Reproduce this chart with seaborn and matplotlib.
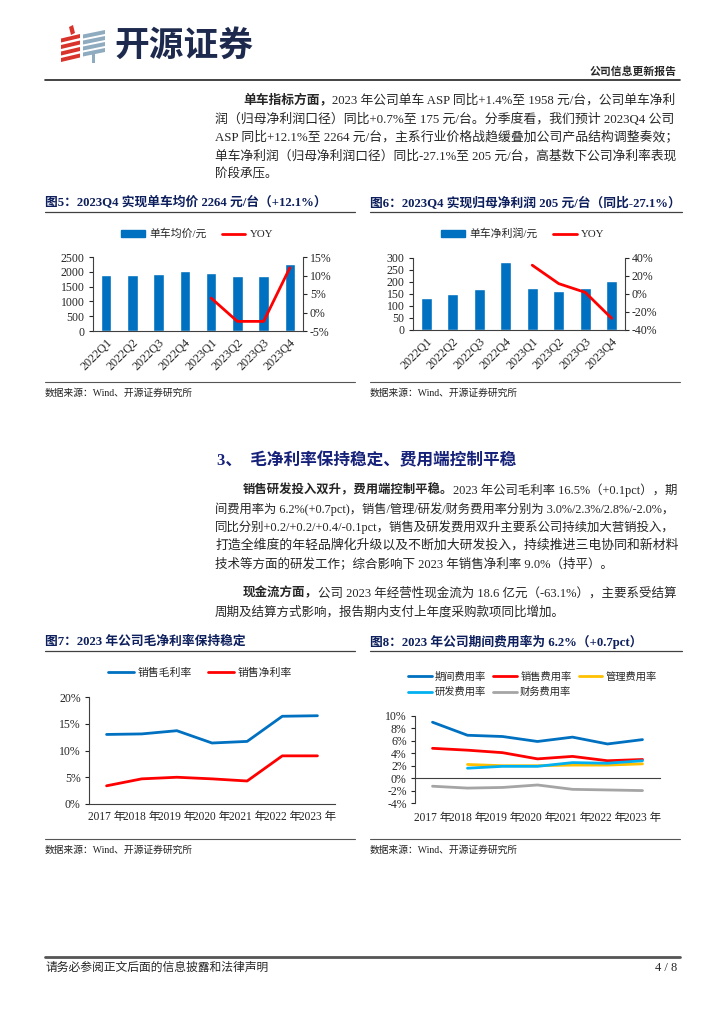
import numpy as np
import pandas as pd
import seaborn as sns
import matplotlib.pyplot as plt
from matplotlib.patches import Patch, Polygon
from matplotlib.lines import Line2D
from matplotlib.ticker import FuncFormatter

# ---- data ----
quarters = ["2022Q1", "2022Q2", "2022Q3", "2022Q4", "2023Q1", "2023Q2", "2023Q3", "2023Q4"]
asp = [1900, 1905, 1925, 2020, 1975, 1860, 1870, 2264]
asp_yoy = [np.nan, np.nan, np.nan, np.nan, 3.9, -2.4, -2.4, 12.1]
profit = [132, 148, 170, 282, 175, 163, 173, 205]
profit_yoy = [np.nan, np.nan, np.nan, np.nan, 32.0, 11.5, 1.8, -27.1]

years = ["2017 年", "2018 年", "2019 年", "2020 年", "2021 年", "2022 年", "2023 年"]
gross_margin = [13.0, 13.1, 13.7, 11.4, 11.7, 16.4, 16.5]
net_margin = [3.4, 4.7, 5.0, 4.7, 4.3, 9.0, 9.0]
period_exp = [9.0, 6.9, 6.7, 5.9, 6.6, 5.5, 6.2]
sales_exp = [4.8, 4.5, 4.1, 3.1, 3.5, 2.8, 3.0]
admin_exp = [np.nan, 2.2, 2.0, 2.0, 2.1, 2.1, 2.3]
rd_exp = [np.nan, 1.6, 1.9, 1.9, 2.5, 2.4, 2.8]
fin_exp = [-1.3, -1.6, -1.5, -1.1, -1.8, -1.9, -2.0]

BLUE = "#0070C0"
RED = "#FF0000"
YELLOW = "#FFC000"
LIGHTBLUE = "#00B0F0"
GREY = "#A5A5A5"
NAVY = "#0d1f5c"

W, H = 724, 1024
RIGHT = 677  # right margin of the body text

sns.set_style("white")
FONT = ["Liberation Serif", "Noto Sans CJK SC"]
plt.rcParams["font.family"] = FONT
plt.rcParams["axes.unicode_minus"] = False

fig = plt.figure(figsize=(7.24, 10.24), dpi=100)

# background axes in pixel coordinates for page text / rules
bg = fig.add_axes([0, 0, 1, 1])
bg.set_xlim(0, W)
bg.set_ylim(H, 0)
bg.axis("off")

justify = []  # body lines to stretch to the right margin


def rect(x0, y0, x1, y1):
    return [x0 / W, 1 - y1 / H, (x1 - x0) / W, (y1 - y0) / H]


def body_line(x, y, text, bold=None, size=9, full=True):
    if bold:
        t = bg.text(x, y, bold, fontsize=size, fontweight="bold", va="center", ha="left")
        a = bg.annotate(text, xy=(1, 0.5), xycoords=t, va="center", ha="left", fontsize=size)
        arts = [t, a]
    else:
        arts = [bg.text(x, y, text, fontsize=size, va="center", ha="left")]
    if full:
        justify.append((x, arts))


# ---- header ----
for k in range(4):
    y = 34 + 6.5 * k
    bg.add_patch(Polygon([(61, y + 4.5), (80, y), (80, y + 4), (61, y + 8.5)], color="#d9342b", lw=0))
bg.add_patch(Polygon([(69, 27), (73, 25), (75, 33), (71, 35)], color="#d9342b", lw=0))
for k in range(4):
    y = 30 + 6 * k
    bg.add_patch(Polygon([(83, y + 4.5), (105, y), (105, y + 4), (83, y + 8.5)], color="#8fabc0", lw=0))
bg.add_patch(Polygon([(92, 52), (95, 52), (95, 63), (92, 63)], color="#8fabc0", lw=0))
bg.text(114, 45, "开源证券", fontsize=25, fontweight="bold", color="#1d2a4d", va="center", ha="left",
        family="Noto Sans CJK SC")
bg.text(677, 72, "公司信息更新报告", fontsize=7.8, fontweight="bold", va="center", ha="right")
bg.plot([45, 680], [80, 80], color="#222222", lw=1.2)

# ---- paragraph 1 ----
body_line(243, 100, "2023 年公司单车 ASP 同比+1.4%至 1958 元/台，公司单车净利", bold="单车指标方面，")
body_line(215, 119, "润（归母净利润口径）同比+0.7%至 175 元/台。分季度看，我们预计 2023Q4 公司")
body_line(215, 137, "ASP 同比+12.1%至 2264 元/台，主系行业价格战趋缓叠加公司产品结构调整奏效；")
body_line(215, 156, "单车净利润（归母净利润口径）同比-27.1%至 205 元/台，高基数下公司净利率表现")
body_line(215, 175, "阶段承压。", full=False)

# ---- chart titles row 1 ----
bg.text(45, 203, "图5：2023Q4 实现单车均价 2264 元/台（+12.1%）", fontsize=9.2, fontweight="bold",
        color=NAVY, va="center", ha="left")
bg.text(370, 203, "图6：2023Q4 实现归母净利润 205 元/台（同比-27.1%）", fontsize=9.2, fontweight="bold",
        color=NAVY, va="center", ha="left")
bg.plot([45, 355], [212, 212], color="#404040", lw=0.9)
bg.plot([370, 682], [212, 212], color="#404040", lw=0.9)

pct = FuncFormatter(lambda v, p: f"{v:.0f}%")


def style_spines(ax):
    ax.set_facecolor("none")
    for s in ax.spines.values():
        s.set_color("#404040")
        s.set_linewidth(0.8)
    ax.spines["top"].set_visible(False)
    ax.set_xlabel("")
    ax.set_ylabel("")


def bar_yoy_chart(box, values, yoy, ylim, ystep, rlim, rstep, label, legend_x):
    ax = fig.add_axes(rect(*box))
    sns.barplot(x=quarters, y=values, color=BLUE, saturation=1, width=0.4, ax=ax)
    ax.set_xlim(-0.5, len(quarters) - 0.5)
    ax.set_ylim(*ylim)
    ax.set_yticks(np.arange(ylim[0], ylim[1] + 1, ystep))
    ax.set_xticks(np.arange(len(quarters)))
    ax.set_xticklabels(quarters, rotation=45, ha="right", rotation_mode="anchor")
    ax.set_xticks(np.arange(len(quarters)) + 0.5, minor=True)
    ax.tick_params(axis="x", which="major", length=0, labelsize=8.8, pad=4)
    ax.tick_params(axis="x", which="minor", direction="in", length=3, width=0.8, color="#404040")
    ax.tick_params(axis="y", direction="out", length=3, width=0.8, labelsize=8.5, pad=3, left=True)
    style_spines(ax)
    ax.spines["right"].set_visible(False)

    axr = ax.twinx()
    df = pd.DataFrame({"pos": np.arange(len(quarters)), "yoy": yoy}).dropna()
    sns.lineplot(data=df, x="pos", y="yoy", color=RED, linewidth=2, ax=axr)
    axr.set_ylim(*rlim)
    axr.set_yticks(np.arange(rlim[0], rlim[1] + 1, rstep))
    axr.yaxis.set_major_formatter(pct)
    axr.tick_params(axis="y", direction="out", length=3, width=0.8, labelsize=8.5, pad=2, right=True)
    style_spines(axr)
    axr.spines["left"].set_visible(False)
    axr.spines["bottom"].set_visible(False)

    handles = [Patch(color=BLUE, label=label), Line2D([], [], color=RED, lw=2, label="YOY")]
    fig.legend(handles=handles, loc="center", bbox_to_anchor=(legend_x / W, 1 - 234 / H), ncol=2,
               frameon=False, fontsize=7.8, handlelength=2.2, handletextpad=0.4, columnspacing=1.4)


bar_yoy_chart((93, 257, 303, 331), asp, asp_yoy, (0, 2500), 500, (-5, 15), 5, "单车均价/元", 197)
bar_yoy_chart((413, 258, 625, 330), profit, profit_yoy, (0, 300), 50, (-40, 40), 20, "单车净利润/元", 523)

# source lines row 1
for x0, x1 in [(45, 355), (370, 680)]:
    bg.plot([x0, x1], [382, 382], color="#555555", lw=0.8)
    bg.text(x0, 393, "数据来源：Wind、开源证券研究所", fontsize=7, va="center", ha="left", color="#222222")

# ---- section heading + paragraphs ----
bg.text(217, 461, "3、  毛净利率保持稳定、费用端控制平稳", fontsize=12, fontweight="bold", color="#16217a",
        va="center", ha="left")
body_line(243, 490, "2023 年公司毛利率 16.5%（+0.1pct），期", bold="销售研发投入双升，费用端控制平稳。")
body_line(215, 509, "间费用率为 6.2%(+0.7pct)，销售/管理/研发/财务费用率分别为 3.0%/2.3%/2.8%/-2.0%，")
body_line(215, 527, "同比分别+0.2/+0.2/+0.4/-0.1pct，销售及研发费用双升主要系公司持续加大营销投入，")
body_line(215, 545, "打造全维度的年轻品牌化升级以及不断加大研发投入，持续推进三电协同和新材料")
body_line(215, 564, "技术等方面的研发工作；综合影响下 2023 年销售净利率 9.0%（持平）。", full=False)
body_line(243, 593, "公司 2023 年经营性现金流为 18.6 亿元（-63.1%），主要系受结算", bold="现金流方面，")
body_line(215, 612, "周期及结算方式影响，报告期内支付上年度采购款项同比增加。", full=False)

# ---- chart titles row 2 ----
bg.text(45, 642, "图7：2023 年公司毛净利率保持稳定", fontsize=9.2, fontweight="bold",
        color=NAVY, va="center", ha="left")
bg.text(370, 642, "图8：2023 年公司期间费用率为 6.2%（+0.7pct）", fontsize=9.2, fontweight="bold",
        color=NAVY, va="center", ha="left")
bg.plot([45, 355], [651, 651], color="#404040", lw=0.9)
bg.plot([370, 682], [651, 651], color="#404040", lw=0.9)


def year_axes(box, ylim, ystep):
    ax = fig.add_axes(rect(*box))
    ax.set_xlim(-0.5, len(years) - 0.5)
    ax.set_ylim(*ylim)
    ax.set_yticks(np.arange(ylim[0], ylim[1] + 1, ystep))
    ax.yaxis.set_major_formatter(pct)
    ax.set_xticks(np.arange(len(years)))
    ax.set_xticks(np.arange(len(years) + 1) - 0.5, minor=True)
    ax.tick_params(axis="x", which="minor", direction="in", length=3, width=0.8, color="#404040")
    ax.tick_params(axis="y", direction="out", length=3, width=0.8, labelsize=8.5, pad=3, left=True)
    return ax


# 图7
ax7 = year_axes((89, 697, 335, 804), (0, 20), 5)
margins = pd.DataFrame({"pos": np.arange(len(years)), "销售毛利率": gross_margin, "销售净利率": net_margin})
margins = margins.melt(id_vars="pos", var_name="item", value_name="rate")
sns.lineplot(data=margins, x="pos", y="rate", hue="item", palette={"销售毛利率": BLUE, "销售净利率": RED},
             linewidth=2, legend=False, ax=ax7)
ax7.set_xticklabels(years)
ax7.tick_params(axis="x", which="major", length=0, labelsize=8.3, pad=5)
style_spines(ax7)
ax7.spines["right"].set_visible(False)
fig.legend(handles=[Line2D([], [], color=BLUE, lw=2, label="销售毛利率"),
                    Line2D([], [], color=RED, lw=2, label="销售净利率")],
           loc="center", bbox_to_anchor=(200 / W, 1 - 673 / H), ncol=2, frameon=False, fontsize=7.8,
           handlelength=2.4, handletextpad=0.4, columnspacing=1.4)

# 图8
ax8 = year_axes((415, 716, 660, 803), (-4, 10), 2)
exp_colors = {"期间费用率": BLUE, "销售费用率": RED, "管理费用率": YELLOW, "研发费用率": LIGHTBLUE, "财务费用率": GREY}
exps = pd.DataFrame({"pos": np.arange(len(years)), "期间费用率": period_exp, "销售费用率": sales_exp,
                     "管理费用率": admin_exp, "研发费用率": rd_exp, "财务费用率": fin_exp})
exps = exps.melt(id_vars="pos", var_name="item", value_name="rate").dropna()
sns.lineplot(data=exps, x="pos", y="rate", hue="item", palette=exp_colors, linewidth=2, legend=False, ax=ax8)
style_spines(ax8)
ax8.spines["right"].set_visible(False)
ax8.spines["bottom"].set_position(("data", 0))
ax8.tick_params(axis="x", which="major", length=0, labelbottom=False)
for i, lab in enumerate(years):
    ax8.text(i, -0.17, lab, transform=ax8.get_xaxis_transform(), ha="center", va="center", fontsize=8.3)
order = ["期间费用率", "研发费用率", "销售费用率", "财务费用率", "管理费用率"]
fig.legend(handles=[Line2D([], [], color=exp_colors[n], lw=2, label=n) for n in order],
           loc="upper left", bbox_to_anchor=(399 / W, 1 - 662 / H), ncol=3, frameon=False, fontsize=7.4,
           handlelength=2.3, handletextpad=0.3, columnspacing=0.7, labelspacing=0.55)

# source lines row 2
for x0, x1 in [(45, 355), (370, 680)]:
    bg.plot([x0, x1], [839, 839], color="#555555", lw=0.8)
    bg.text(x0, 850, "数据来源：Wind、开源证券研究所", fontsize=7, va="center", ha="left", color="#222222")

# ---- footer ----
bg.plot([45, 680], [957, 957], color="#555555", lw=2)
bg.text(45, 968, "请务必参阅正文后面的信息披露和法律声明", fontsize=8.5, va="center", ha="left")
bg.text(677, 968, "4 / 8", fontsize=9, va="center", ha="right")

# stretch full body lines to the right margin by scaling their font size
renderer = fig.canvas.get_renderer()
for x, arts in justify:
    right = arts[-1].get_window_extent(renderer).x1
    scale = (RIGHT - x) / (right - x)
    for a in arts:
        a.set_fontsize(a.get_fontsize() * scale)

fig.savefig("out.png", dpi=100)
